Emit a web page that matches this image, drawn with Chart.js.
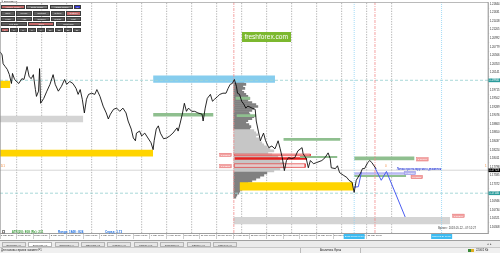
<!DOCTYPE html>
<html lang="ru">
<head>
<meta charset="UTF-8">
<meta name="viewport" content="width=device-width, initial-scale=1.0">
<title>EURUSD,H1</title>
<script src="https://cdn.jsdelivr.net/npm/chart.js@4.4.1/dist/chart.umd.min.js"></script>
<style>
  html, body { margin: 0; padding: 0; background: #fff; }
  #wrap { position: relative; width: 500px; height: 253px; overflow: hidden; font-family: "Liberation Sans", Arial, sans-serif; }
  #chart { position: absolute; left: 0; top: 0; }
  .ui { position: absolute; white-space: nowrap; }
  .btn { position: absolute; color: #f0f0f0; text-align: center; font-size: 2.3px; box-sizing: border-box; border: 0.3px solid #3c3c3c; }
  #tabs { position: absolute; left: 0; top: 240px; width: 500px; height: 7px; background: #ebebeb; border-top: 0.5px solid #a0a0a0; box-sizing: border-box; }
  .tab { position: absolute; top: 0.8px; height: 5.2px; width: 24px; font-size: 2.5px; line-height: 5.2px; text-align: center; color: #333; border: 0.4px solid #b4b4b4; box-sizing: border-box; background: #e6e6e6; }
  .tab.on { background: #fff; }
  #status { position: absolute; left: 0; top: 247px; width: 500px; height: 6px; background: #f0f0f0; border-top: 0.4px solid #c8c8c8; box-sizing: border-box; font-size: 2.7px; line-height: 5.6px; color: #222; }
</style>
</head>
<body>
<div id="wrap">
  <canvas id="chart" width="500" height="240"></canvas>
  <div class="ui" style="left:1px;top:0.2px;font-size:2.3px;color:#111;">&#9660; EURUSD,H1</div>
  <div id="panel"></div>
  <div class="ui" style="left:241.7px;top:32.3px;width:49px;height:10px;background:#7cb82f;color:#fff;font-size:6.6px;line-height:10px;text-align:center;">freshforex.com</div>
  <div class="ui" style="left:1.7px;top:229.7px;width:3.3px;height:4.6px;border:0.4px solid #888;box-sizing:border-box;background:#fff;font-size:2.5px;line-height:4px;text-align:center;">?</div>
  <div class="ui" style="left:11.7px;top:230.3px;font-size:3px;color:#3a9a3a;font-weight:bold;">ATR(20): 808 (Rs): 231</div>
  <div class="ui" style="left:58px;top:230.3px;font-size:3px;color:#1f6fe0;font-weight:bold;">Range: 1848 : 824</div>
  <div class="ui" style="left:105px;top:230.3px;font-size:3px;color:#1f6fe0;font-weight:bold;">Спред: 1.73</div>
  <div class="ui" style="left:438px;top:226.2px;font-size:2.8px;color:#444;">Время : 2018.05.22 - 07:52:27</div>
  <div id="tabs"></div>
  <div id="status">
    <span class="ui" style="left:1px;">Для вызова справки нажмите F1</span>
    <span class="ui" style="left:300px;top:0;height:5.6px;border-left:0.4px solid #bbb;"></span>
    <span class="ui" style="left:320px;">Аналитика Фреш</span>
    <span class="ui" style="left:360px;top:0;height:5.6px;border-left:0.4px solid #bbb;"></span>
    <span class="ui" style="left:468px;top:1.3px;width:6px;height:3px;background:linear-gradient(90deg,#3a8a3a 50%,#e0b020 50%);"></span>
    <span class="ui" style="left:476px;">2206/2 Kb</span>
  </div>
</div>
<script>
// ---- axis bounds (trading hours from 1 May 2018 00:00, EURUSD price) ----
const xMinHour = 0, xMaxHour = 468.5;
const yMinPrice = 1.16163, yMaxPrice = 1.21886;

// ---- price line, H1 ----
const priceHours = [
  0, 2, 3, 5, 7, 9, 11, 12, 14, 18,
  21, 23, 26, 28, 30, 32, 34, 35, 37, 38,
  39, 42, 45, 48, 51, 53, 56, 59, 62, 64,
  67, 70, 73, 75, 77, 79, 81, 83, 85, 88,
  91, 93, 96, 99, 102, 104, 106, 109, 112, 115,
  118, 121, 123, 126, 128, 130, 131, 134, 136, 139,
  142, 145, 147, 148, 150, 152, 154, 157, 160, 163,
  166, 170, 171, 173, 175, 177, 179, 181, 184, 187,
  190, 194, 195, 197, 199, 202, 204, 206, 209, 211,
  214, 217, 219, 221, 223, 225, 227, 228, 230, 232,
  234, 236, 238, 242, 245, 246, 248, 250, 251, 253,
  255, 258, 261, 264, 267, 269, 271, 273, 275, 277,
  280, 283, 286, 290, 291, 294, 296, 298, 301, 304,
  309, 312, 315, 317, 318, 322, 324, 326, 330, 333,
  335, 338, 340, 342, 346, 348, 350, 353, 355, 357,
  359, 361
];
const priceCloses = [
  1.2066, 1.2058, 1.2036, 1.2029, 1.2022, 1.2009, 1.1987, 1.2012, 1.1997, 1.1987,
  1.1999, 1.1997, 1.2029, 1.2004, 1.1999, 1.2009, 1.1972, 1.1955, 1.1968, 1.2024,
  1.1938, 1.1950, 1.1968, 1.1985, 1.2009, 1.1985, 1.1968, 1.1980, 1.1997, 1.1985,
  1.1992, 1.1987, 1.1975, 1.1960, 1.1972, 1.1948, 1.1914, 1.1948, 1.1960, 1.1963,
  1.1960, 1.1972, 1.1955, 1.1931, 1.1914, 1.1899, 1.1911, 1.1923, 1.1926, 1.1918,
  1.1926, 1.1914, 1.1894, 1.1874, 1.1852, 1.1845, 1.1864, 1.1869, 1.1857, 1.1864,
  1.1852, 1.1840, 1.1823, 1.1845, 1.1874, 1.1882, 1.1864, 1.1850, 1.1852, 1.1857,
  1.1864, 1.1877, 1.1869, 1.1889, 1.1911, 1.1938, 1.1918, 1.1926, 1.1918, 1.1918,
  1.1914, 1.1911, 1.1894, 1.1926, 1.1950, 1.1960, 1.1943, 1.1948, 1.1955, 1.1960,
  1.1963, 1.1963, 1.1975, 1.1985, 1.1987, 1.1997, 1.1980, 1.1963, 1.1960, 1.1943,
  1.1936, 1.1926, 1.1931, 1.1926, 1.1923, 1.1894, 1.1869, 1.1845, 1.1852, 1.1864,
  1.1845, 1.1828, 1.1832, 1.1825, 1.1845, 1.1825, 1.1803, 1.1771, 1.1796, 1.1803,
  1.1801, 1.1803, 1.1820, 1.1828, 1.1813, 1.1801, 1.1778, 1.1796, 1.1788, 1.1791,
  1.1796, 1.1803, 1.1815, 1.1801, 1.1778, 1.1776, 1.1783, 1.1766, 1.1759, 1.1754,
  1.1747, 1.1742, 1.1717, 1.1747, 1.1764, 1.1776, 1.1776, 1.1791, 1.1796, 1.1791,
  1.1783, 1.1776
];

// ---- blue forecast path ----
const impulseHours = [340, 344, 347];
const impulsePrices = [1.1730, 1.1731, 1.1767];
const forecastHours = [360, 366, 371, 389];
const forecastPrices = [1.1778, 1.1747, 1.1769, 1.1656];

// ---- zones (time range, price range) ----
const zoneStart  = [147, 0, 0, 147, 0, 226, 227, 272, 340, 288, 340, 340, 225, 225, 225, 230, 224];
const zoneEnd    = [264, 10, 80, 205, 147, 240, 246, 327, 398, 324, 390, 390, 298, 295, 293, 339, 432];
const zoneTop    = [1.2007, 1.1994, 1.1907, 1.1914, 1.1823, 1.1954, 1.1911, 1.1852, 1.1806, 1.1807, 1.1760, 1.1767, 1.1812, 1.1804, 1.1788, 1.1742, 1.1656];
const zoneBottom = [1.1989, 1.1976, 1.1891, 1.1905, 1.1806, 1.1947, 1.1904, 1.1845, 1.1797, 1.1802, 1.1755, 1.1761, 1.1808, 1.1798, 1.1779, 1.1722, 1.1638];
const zoneColors = ['#86cdee', '#ffd400', '#d4d4d4', '#8fbf8f', '#ffd400', '#8fbf8f', '#8fbf8f', '#8fbf8f', '#8fbf8f', '#8fbf8f', '#8fbf8f', '#b9b9f2', 'rgba(246,176,176,0.7)', '#e5211e', 'rgba(250,205,205,0.5)', '#ffd400', '#d4d4d4'];
const outlinedZones = [12, 14];

// ---- volume profile ----
const profileStartHour = 224.5;
const profilePrices = [
  1.1995, 1.1990, 1.1985, 1.1980, 1.1975, 1.1970, 1.1965, 1.1960, 1.1955, 1.1950,
  1.1945, 1.1940, 1.1935, 1.1930, 1.1925, 1.1920, 1.1915, 1.1910, 1.1905, 1.1900,
  1.1895, 1.1890, 1.1885, 1.1880, 1.1875, 1.1870, 1.1865, 1.1860, 1.1855, 1.1850,
  1.1845, 1.1840, 1.1835, 1.1830, 1.1825, 1.1820, 1.1815, 1.1810, 1.1805, 1.1800,
  1.1795, 1.1790, 1.1785, 1.1780, 1.1775, 1.1770, 1.1765, 1.1760, 1.1755, 1.1750,
  1.1745, 1.1740, 1.1735, 1.1730, 1.1725, 1.1720, 1.1715, 1.1710, 1.1705
];
const profileVolumes = [
  8, 10, 12, 9, 11, 8, 10, 12, 14, 16,
  14, 18, 22, 24, 20, 18, 15, 16, 20, 18,
  14, 12, 15, 17, 16, 20, 22, 24, 22, 25,
  26, 28, 30, 33, 36, 40, 34, 38, 44, 48,
  46, 50, 48, 52, 46, 40, 33, 30, 26, 22,
  18, 14, 12, 10, 8, 6, 5, 3, 2
];
const valueAreaHigh = 1.1870, valueAreaLow = 1.1770;
const volumeToHours = 0.96;

// ---- lines ----
const gridHours = [16, 40, 64, 88, 112, 136, 160, 184, 208, 232, 256, 280, 304, 328, 352, 376];
const cyanLineHours = [340, 424];
const redLineHours = [224.5, 360];
const levelPrices = [1.1995, 1.1715];
const bidPrice = 1.1772;

// ---- axes ----
const xTickHours = [0, 16, 32, 48, 64, 80, 96, 112, 128, 144, 160, 176, 192, 208, 224, 240, 256, 272, 288, 304, 320, 336, 352];
const xTickLabels = ['1 May 2018', '1 May 16:00', '2 May 08:00', '3 May 00:00', '3 May 16:00', '4 May 08:00', '7 May 00:00', '7 May 16:00',
  '8 May 08:00', '9 May 00:00', '9 May 16:00', '10 May 08:00', '11 May 00:00', '11 May 16:00', '14 May 08:00', '15 May 00:00',
  '15 May 16:00', '16 May 08:00', '17 May 00:00', '17 May 16:00', '18 May 08:00', '21 May 00:00', '21 May 16:00'];
const yTickValues = [1.21844, 1.21631, 1.21418, 1.21205, 1.20992, 1.20779, 1.20566, 1.20353, 1.20141, 1.19928,
  1.19715, 1.19502, 1.19289, 1.19076, 1.18863, 1.18650, 1.18437, 1.18224, 1.18011, 1.17798,
  1.17585, 1.17372, 1.17159, 1.16946, 1.16734, 1.16521, 1.16308];

// ---- labels ----
const tagHours = [211, 211, 400, 394.6, 434.6, 388];
const tagPrices = [1.1810, 1.1782, 1.1799, 1.1755, 1.1659, 1.1765];
const tagTexts = ['1.18100', '1.17820', '1.17990', '1.17550', '1.16590', '1.17650'];
const tagFills = ['#f3a3a3', '#f3a3a3', '#f3a3a3', '#f3a3a3', '#f3a3a3', '#b4b4f0'];
const axisMarkPrices = [1.1995, 1.1772, 1.1715];
const axisMarkTexts = ['1.19946', '1.17723', '1.17146'];
const axisMarkFills = ['#2a9c9c', '#000000', '#2a9c9c'];
const timeMarkHours = [340, 424];
const timeMarkTexts = ['2018.05.21 04:00', '2018.05.24 16:00'];
const noteHours = [1, 369.6, 465.6, 380.8];
const notePrices = [1.1781, 1.1781, 1.1781, 1.1774];
const noteTexts = ['D1', '0', '1', 'Линия прогнозируемого движения'];
const noteColors = ['#f08a3c', '#f08a3c', '#f08a3c', '#2a3cd8'];

// ---- button panel (top left) ----
const panelButtons = [
  [1, 4.7, 24, 4.3, 'Volume Profile', '#c46868'], [26, 4.7, 22.3, 4.3, 'Delta Profile', '#7a7a7a'], [50, 4.7, 22.7, 4.3, 'AskBid Profile', '#7a7a7a'], [74, 4.7, 7, 4.3, '[?]', '#3434d4'],
  [1, 11, 14, 4.5, 'Daily', '#5c5c5c'], [16, 11, 16, 4.5, 'Weekly', '#5c5c5c'], [33, 11, 17, 4.5, 'Contract', '#5c5c5c'], [51, 11, 14, 4.5, 'Octave', '#5c5c5c'], [66, 11, 15, 4.5, 'Custom', '#c46868'],
  [1, 16.7, 14, 4.2, 'Hour', '#5c5c5c'], [16, 16.7, 16, 4.2, 'Auto', '#5c5c5c'], [33, 16.7, 17, 4.2, 'Session', '#5c5c5c'], [51, 16.7, 14, 4.2, 'Range', '#5c5c5c'], [66, 16.7, 15, 4.2, 'Left', '#5c5c5c'],
  [1, 22, 25.7, 4.2, 'Left Side', '#5c5c5c'], [28.3, 22, 26, 4.2, 'Open', '#c46868'], [56, 22, 25, 4.2, 'Right Side', '#5c5c5c'],
  [1, 27.7, 8, 4, '1', '#c46868'], [10, 27.7, 8, 4, '2', '#5c5c5c'], [19, 27.7, 8, 4, '3', '#5c5c5c'], [28, 27.7, 8, 4, '5', '#5c5c5c'],
  [37, 27.7, 8, 4, '7', '#5c5c5c'], [46, 27.7, 8, 4, '10', '#5c5c5c'], [55, 27.7, 8, 4, '15', '#5c5c5c'], [64, 27.7, 8, 4, '20', '#5c5c5c'], [73, 27.7, 8, 4, '31', '#5c5c5c']
];
const panel = document.getElementById('panel');
panelButtons.forEach(b => {
  const d = document.createElement('div');
  d.className = 'btn';
  d.style.cssText = 'left:' + b[0] + 'px;top:' + b[1] + 'px;width:' + b[2] + 'px;height:' + b[3] + 'px;line-height:' + (b[3] - 0.6) + 'px;background:' + b[5] + ';';
  d.textContent = b[4];
  panel.appendChild(d);
});

const tabNames = ['EURUSD,H4', 'EURUSD,H1', 'GBPUSD,H4', 'GBPUSD,H1', 'USDJPY,H4', 'USDJPY,H1', 'EURGBP,H4', 'GBPJPY,H4', 'USDCHF,H4'];
const tabs = document.getElementById('tabs');
tabNames.forEach((n, i) => {
  const t = document.createElement('div');
  t.className = 'tab' + (i === 1 ? ' on' : '');
  t.style.left = (1.7 + i * 26.4) + 'px';
  t.textContent = n;
  tabs.appendChild(t);
});
const arrows = document.createElement('div');
arrows.className = 'ui';
arrows.style.cssText = 'left:487px;top:1px;font-size:3px;color:#555;';
arrows.textContent = '◂ ▸';
tabs.appendChild(arrows);

// ---- datasets ----
const datasets = [];
datasets.push({
  type: 'line', label: 'EURUSD,H1',
  data: priceHours.map((h, i) => ({ x: h, y: priceCloses[i] })),
  borderColor: '#000', borderWidth: 0.85, pointRadius: 0, tension: 0, fill: false, order: 0
});
datasets.push({
  type: 'line', data: impulseHours.map((h, i) => ({ x: h, y: impulsePrices[i] })),
  borderColor: '#4a5cf0', borderWidth: 1, pointRadius: 0, fill: false, order: 1
});
datasets.push({
  type: 'line', data: forecastHours.map((h, i) => ({ x: h, y: forecastPrices[i] })),
  borderColor: '#4a5cf0', borderWidth: 1, pointRadius: 0, fill: false, order: 1
});

function vLine(h, color, dash, width, order) {
  return { type: 'line', data: [{ x: h, y: yMinPrice }, { x: h, y: yMaxPrice }], borderColor: color, borderWidth: width, borderDash: dash, pointRadius: 0, fill: false, order: order };
}
function hLine(p, color, dash, width, order) {
  return { type: 'line', data: [{ x: xMinHour, y: p }, { x: xMaxHour, y: p }], borderColor: color, borderWidth: width, borderDash: dash, pointRadius: 0, fill: false, order: order };
}
gridHours.forEach(h => datasets.push(vLine(h, '#9c9c9c', [1.3, 1.3], 0.75, 100)));
cyanLineHours.forEach(h => datasets.push(vLine(h, '#8fd3f5', [1, 1], 0.8, 50)));
redLineHours.forEach(h => datasets.push(vLine(h, '#f08a8a', [3, 1, 1, 1], 0.8, 50)));
levelPrices.forEach(p => datasets.push(hLine(p, '#9fd4d4', [3, 2], 0.9, 60)));
datasets.push(hLine(bidPrice, '#c4c4c4', [], 0.7, 60));

zoneStart.forEach((t0, i) => {
  datasets.push({
    type: 'line', data: [{ x: t0, y: zoneTop[i] }, { x: zoneEnd[i], y: zoneTop[i] }],
    borderColor: 'rgba(0,0,0,0)', backgroundColor: zoneColors[i], fill: { value: zoneBottom[i] },
    pointRadius: 0, order: 80
  });
});
outlinedZones.forEach(i => {
  datasets.push({
    type: 'line',
    data: [{ x: zoneStart[i], y: zoneTop[i] }, { x: zoneEnd[i], y: zoneTop[i] }, { x: zoneEnd[i], y: zoneBottom[i] },
           { x: zoneStart[i], y: zoneBottom[i] }, { x: zoneStart[i], y: zoneTop[i] }],
    borderColor: '#e23a3a', borderWidth: 0.7, pointRadius: 0, fill: false, order: 79
  });
});

datasets.push({
  type: 'bar', indexAxis: 'y', xAxisID: 'x', yAxisID: 'y',
  data: profilePrices.map((p, i) => ({ y: p, x: [profileStartHour, profileStartHour + profileVolumes[i] * volumeToHours] })),
  backgroundColor: profilePrices.map(p => (p <= valueAreaHigh && p >= valueAreaLow) ? '#c6c6c6' : '#808080'),
  barThickness: 2, borderWidth: 0, order: 90
});

// ---- texts drawn on the chart ----
const mt4Labels = {
  id: 'mt4Labels',
  afterDatasetsDraw(chart) {
    const ctx = chart.ctx, xs = chart.scales.x, ys = chart.scales.y;
    ctx.save();
    ctx.textBaseline = 'middle';
    ctx.font = '2.5px "Liberation Sans", Arial';
    tagHours.forEach((h, i) => {
      const x = xs.getPixelForValue(h), y = ys.getPixelForValue(tagPrices[i]);
      ctx.fillStyle = tagFills[i];
      ctx.fillRect(x, y - 1.7, 11.5, 3.4);
      ctx.strokeStyle = i === 5 ? '#8a8ae0' : '#e06060';
      ctx.lineWidth = 0.4;
      ctx.strokeRect(x, y - 1.7, 11.5, 3.4);
      ctx.fillStyle = '#fff';
      ctx.fillText(tagTexts[i], x + 1.2, y + 0.2);
    });
    noteHours.forEach((h, i) => {
      const x = xs.getPixelForValue(h), y = ys.getPixelForValue(notePrices[i]);
      ctx.fillStyle = noteColors[i];
      ctx.font = (i === 3 ? 'bold 2.6px ' : '3px ') + '"Liberation Sans", Arial';
      ctx.fillText(noteTexts[i], x, y);
    });
    ctx.restore();
  },
  afterDraw(chart) {
    const ctx = chart.ctx, xs = chart.scales.x, ys = chart.scales.y, area = chart.chartArea;
    ctx.save();
    ctx.strokeStyle = '#8c8c8c';
    ctx.lineWidth = 0.6;
    ctx.strokeRect(area.left + 0.3, area.top + 0.3, area.right - area.left - 0.3, area.bottom - area.top);
    ctx.textBaseline = 'middle';
    ctx.font = '2.7px "Liberation Sans", Arial';
    axisMarkPrices.forEach((p, i) => {
      const y = ys.getPixelForValue(p);
      ctx.fillStyle = axisMarkFills[i];
      ctx.fillRect(area.right + 0.5, y - 1.9, 11.5, 3.8);
      ctx.fillStyle = '#fff';
      ctx.fillText(axisMarkTexts[i], area.right + 1.3, y + 0.2);
    });
    ctx.textAlign = 'center';
    ctx.font = '2.4px "Liberation Sans", Arial';
    timeMarkHours.forEach((h, i) => {
      const x = xs.getPixelForValue(h);
      ctx.fillStyle = '#3dbcf2';
      ctx.fillRect(x - 10.5, area.bottom + 1, 21, 5);
      ctx.fillStyle = '#fff';
      ctx.fillText(timeMarkTexts[i], x, area.bottom + 3.6);
    });
    ctx.restore();
  }
};

new Chart(document.getElementById('chart'), {
  type: 'line',
  data: { datasets: datasets },
  options: {
    responsive: false,
    animation: false,
    events: [],
    layout: { padding: 0 },
    plugins: { legend: { display: false }, tooltip: { enabled: false } },
    scales: {
      x: {
        type: 'linear', position: 'bottom', min: xMinHour, max: xMaxHour, offset: false,
        afterBuildTicks: axis => { axis.ticks = xTickHours.map(v => ({ value: v })); },
        afterFit: axis => { axis.height = 7; },
        ticks: {
          autoSkip: false, maxRotation: 0, minRotation: 0, align: 'start', padding: -4.6, labelOffset: 0.8,
          color: '#222', font: { size: 2.4, family: '"Liberation Sans", Arial' },
          callback: (v, i) => xTickLabels[i]
        },
        grid: { drawOnChartArea: false, drawTicks: true, tickLength: 6, color: '#9a9a9a', lineWidth: 0.5 },
        border: { display: true, color: '#8c8c8c', width: 0.6 }
      },
      y: {
        type: 'linear', position: 'right', min: yMinPrice, max: yMaxPrice, offset: false,
        afterBuildTicks: axis => { axis.ticks = yTickValues.map(v => ({ value: v })); },
        afterFit: axis => { axis.width = 12; },
        ticks: {
          autoSkip: false, padding: 0.6, color: '#222', font: { size: 2.7, family: '"Liberation Sans", Arial' },
          callback: v => v.toFixed(5)
        },
        grid: { drawOnChartArea: false, drawTicks: true, tickLength: 1.2, color: '#8c8c8c', lineWidth: 0.5 },
        border: { display: true, color: '#8c8c8c', width: 0.6 }
      }
    }
  },
  plugins: [mt4Labels]
});
</script>
</body>
</html>
